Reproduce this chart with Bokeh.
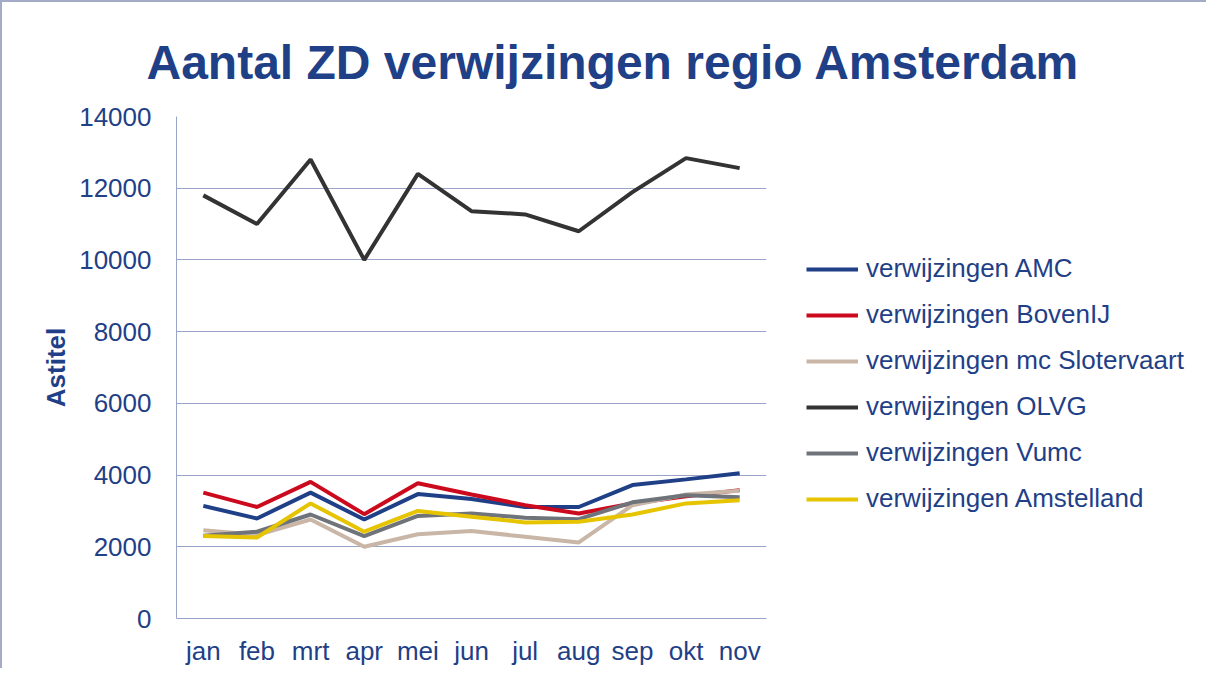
from bokeh.plotting import figure
from bokeh.models import Legend, LegendItem, FixedTicker, Range1d
from bokeh.embed import file_html
from bokeh.resources import INLINE

months = ["jan", "feb", "mrt", "apr", "mei", "jun", "jul", "aug", "sep", "okt", "nov"]

amc = [3140, 2790, 3510, 2760, 3470, 3330, 3110, 3110, 3720, 3880, 4050]
bovenij = [3510, 3110, 3810, 2910, 3770, 3460, 3160, 2930, 3210, 3410, 3580]
slotervaart = [2460, 2330, 2760, 2000, 2350, 2440, 2280, 2120, 3160, 3460, 3560]
olvg = [11800, 11000, 12800, 10000, 12400, 11360, 11270, 10800, 11890, 12840, 12560]
vumc = [2310, 2420, 2900, 2300, 2860, 2930, 2810, 2770, 3240, 3440, 3380]
amstelland = [2300, 2260, 3210, 2420, 3000, 2840, 2680, 2700, 2900, 3210, 3300]

series_names = ["verwijzingen AMC", "verwijzingen BovenIJ", "verwijzingen mc Slotervaart",
                "verwijzingen OLVG", "verwijzingen Vumc", "verwijzingen Amstelland"]
series_values = [amc, bovenij, slotervaart, olvg, vumc, amstelland]
series_colors = ["#1F3F87", "#CC0A1E", "#C9B6A6", "#333333", "#6F737A", "#E6C400"]

title_text = "Aantal ZD verwijzingen regio Amsterdam"
y_title = "Astitel"
text_color = "#1F3F87"
font = "Liberation Sans"

p = figure(x_range=months, y_range=Range1d(0, 14000),
           frame_width=590, frame_height=502,
           output_backend="svg", toolbar_location=None,
           min_border_left=174, min_border_right=420,
           min_border_top=114, min_border_bottom=50)

p.styles = {"border-top": "2px solid #A3ABC6", "border-left": "2px solid #A3ABC6"}

p.title.text = title_text
p.title.text_font = font
p.title.text_font_size = "48px"
p.title.text_font_style = "bold"
p.title.text_color = text_color
p.title.align = "left"
p.title.offset = -30
p.title.standoff = 56

p.outline_line_color = None
p.background_fill_color = "white"
p.border_fill_color = "white"

grid_color = "#9AA4C8"
p.xgrid.grid_line_color = None
p.ygrid.grid_line_color = grid_color
p.ygrid.grid_line_width = 1

p.yaxis.ticker = FixedTicker(ticks=list(range(0, 14001, 2000)))
p.yaxis.axis_label = y_title
p.yaxis.axis_label_text_font = font
p.yaxis.axis_label_text_font_size = "26px"
p.yaxis.axis_label_text_font_style = "bold"
p.yaxis.axis_label_text_color = text_color
p.yaxis.axis_label_standoff = 5

for ax in [p.xaxis[0], p.yaxis[0]]:
    ax.axis_line_color = grid_color
    ax.major_tick_line_color = None
    ax.minor_tick_line_color = None
    ax.major_label_text_font = font
    ax.major_label_text_font_size = "26px"
    ax.major_label_text_color = text_color
p.yaxis.major_label_standoff = 19
p.xaxis.major_label_standoff = 11

items = []
for name, vals, col in zip(series_names, series_values, series_colors):
    r = p.line(months, vals, line_color=col, line_width=4)
    items.append(LegendItem(label=name, renderers=[r]))

legend = Legend(items=items, location="center_left", border_line_color=None,
                background_fill_alpha=0, padding=0, margin=40,
                title=" ", title_text_font_size="20px", title_standoff=10,
                glyph_width=52, glyph_height=26, label_height=26, spacing=15,
                label_standoff=8, label_text_font=font, label_text_font_size="26px",
                label_text_color=text_color)
p.add_layout(legend, "right")

open("out.html", "w").write(file_html(p, INLINE))
